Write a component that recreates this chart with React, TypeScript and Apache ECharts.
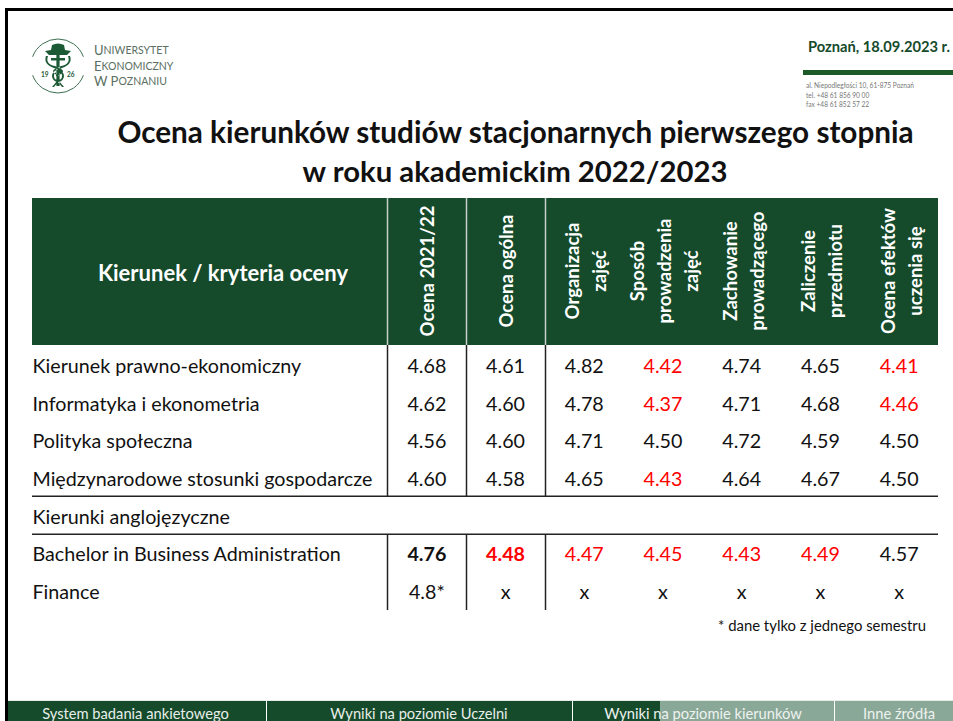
import React, { useEffect, useRef } from "react";
import * as echarts from "echarts";

const FONT = "Lato, Carlito, sans-serif";
const GREEN = "#154a2b";
const BODY_SIZE = 19.7;

const columnKeys = ["c1", "c2", "c3", "c4", "c5", "c6", "c7"];
const columnHeaders = [
  "Ocena 2021/22",
  "Ocena ogólna",
  "Organizacja\nzajęć",
  "Sposób\nprowadzenia\nzajęć",
  "Zachowanie\nprowadzącego",
  "Zaliczenie\nprzedmiotu",
  "Ocena efektów\nuczenia się",
];
const headerCentres = [427, 506, 585, 664, 743.5, 821.5, 901];
const rowLabels = [
  "Kierunek prawno-ekonomiczny",
  "Informatyka i ekonometria",
  "Polityka społeczna",
  "Międzynarodowe stosunki gospodarcze",
  "Kierunki anglojęzyczne",
  "Bachelor in Business Administration",
  "Finance",
];
const rowValues: string[][] = [
  ["4.68", "4.61", "4.82", "4.42", "4.74", "4.65", "4.41"],
  ["4.62", "4.60", "4.78", "4.37", "4.71", "4.68", "4.46"],
  ["4.56", "4.60", "4.71", "4.50", "4.72", "4.59", "4.50"],
  ["4.60", "4.58", "4.65", "4.43", "4.64", "4.67", "4.50"],
  ["", "", "", "", "", "", ""],
  ["4.76", "4.48", "4.47", "4.45", "4.43", "4.49", "4.57"],
  ["4.8*", "x", "x", "x", "x", "x", "x"],
];
const redCells = ["0-3", "0-6", "1-3", "1-6", "3-3", "5-1", "5-2", "5-3", "5-4", "5-5"];
const boldCells = ["5-0", "5-1"];
const footerTabs = [
  { text: "System badania ankietowego", x0: 8, x1: 266, tx: 135.5, fill: GREEN },
  { text: "Wyniki na poziomie Uczelni", x0: 267, x1: 572, tx: 419, fill: GREEN },
];

function cells() {
  const out: any[] = [];
  rowValues.forEach((row, r) =>
    row.forEach((v, c) => {
      if (!v) return;
      const k = `${r}-${c}`;
      out.push({
        value: [c, r],
        name: v,
        label: {
          color: redCells.includes(k) ? "#ff0000" : "#111111",
          fontWeight: boldCells.includes(k) ? "bold" : "normal",
        },
      });
    })
  );
  return out;
}

const logoPath =
  "M-13 -15 L-7 -16 L-6 -21 Q0 -24 6 -21 L7 -16 L13 -15 L9 -11 L-9 -11 Z " +
  "M-1.6 -11 L1.6 -11 L1.6 20 L-1.6 20 Z " +
  "M-10 -10 Q-13 -2 -3 0 L3 3 Q7 5 3 8 L-2 10 L-2 7 Q3 5 1 4 L-4 2 Q-15 -2 -12 -10 Z " +
  "M10 -10 Q13 -2 3 0 L-3 3 Q-7 5 -3 8 L2 10 L2 7 Q-3 5 -1 4 L4 2 Q15 -2 12 -10 Z " +
  "M-7 -8 L7 -8 L7 -5.5 L-7 -5.5 Z " +
  "M-6 10 A6 6 0 1 1 6 10 A6 6 0 1 1 -6 10 Z M-4 10 A4 4 0 1 0 4 10 A4 4 0 1 0 -4 10 Z " +
  "M-6 21 L-1 15 L0 16 L-4 21 Z M6 21 L1 15 L0 16 L4 21 Z";
echarts.graphic.registerShape("ueLogoMark", echarts.graphic.extendPath(logoPath, {}));

function graphics() {
  const g: any[] = [];
  const rect = (x: number, y: number, w: number, h: number, fill: string, z = 0) =>
    g.push({ type: "rect", shape: { x, y, width: w, height: h }, style: { fill }, z });
  const text = (x: number, y: number, t: string, size: number, color: string, o: any = {}) =>
    g.push({
      type: "text",
      x,
      y,
      rotation: o.rotation || 0,
      z: 5,
      style: {
        text: t,
        fill: color,
        font: `${o.bold ? "bold " : ""}${size}px ${FONT}`,
        align: o.align || "left",
        verticalAlign: "middle",
        lineHeight: o.lineHeight,
        rich: o.rich,
      },
    });
  const vline = (x: number, y0: number, y1: number, c: string, w = 1) =>
    g.push({ type: "line", shape: { x1: x, y1: y0, x2: x, y2: y1 }, style: { stroke: c, lineWidth: w }, z: 3 });

  // slide frame
  rect(5, 8, 948, 3, "#000000");
  rect(5, 8, 3, 713, "#000000");

  // logo
  g.push({ type: "ueLogoMark", x: 58, y: 66, scaleX: 1, scaleY: 1, style: { fill: "#1c5a35" }, z: 4 });
  const ring = { stroke: "#3d6f50", fill: "none", lineWidth: 1 };
  const deg = Math.PI / 180;
  g.push({ type: "arc", shape: { cx: 58, cy: 66, r: 27, startAngle: 200 * deg, endAngle: 340 * deg }, style: ring, z: 4 });
  g.push({ type: "arc", shape: { cx: 58, cy: 66, r: 27, startAngle: 20 * deg, endAngle: 160 * deg }, style: ring, z: 4 });
  text(41, 74, "19", 6.5, "#1c5a35", { bold: true });
  text(67, 74, "26", 6.5, "#1c5a35", { bold: true });
  const caps = { rich: { a: { font: `13px ${FONT}`, fill: "#5a6f62" }, b: { font: `10.5px ${FONT}`, fill: "#5a6f62" } } };
  text(94, 50, "{a|U}{b|NIWERSYTET}", 10.5, "#5a6f62", caps);
  text(94, 66, "{a|E}{b|KONOMICZNY}", 10.5, "#5a6f62", caps);
  text(94, 81, "{a|W P}{b|OZNANIU}", 10.5, "#5a6f62", caps);

  // top right
  text(808, 46, "Poznań, 18.09.2023 r.", 14.7, GREEN, { bold: true });
  rect(803, 70, 150, 5, "#1d5a2a");
  text(806, 85, "al. Niepodległości 10, 61-875 Poznań", 6.6, "#777777");
  text(806, 95, "tel. +48 61 856 90 00", 6.6, "#777777");
  text(806, 104, "fax +48 61 852 57 22", 6.6, "#777777");

  // title
  text(515.5, 131, "Ocena kierunków studiów stacjonarnych pierwszego stopnia", 29.7, "#111111", { bold: true, align: "center" });
  text(515, 170, "w roku akademickim 2022/2023", 29.3, "#111111", { bold: true, align: "center" });

  // table header
  rect(32, 198, 906, 147, GREEN);
  for (const x of [387.5, 466.5, 545.5]) vline(x, 198, 345, "#c8d0cb", 1.5);
  text(223, 272, "Kierunek / kryteria oceny", 22, "#ffffff", { bold: true, align: "center" });
  columnHeaders.forEach((h, i) => {
    text(headerCentres[i], 271, h, 18.5, "#ffffff", {
      bold: true,
      align: "center",
      rotation: Math.PI / 2,
      lineHeight: 27,
    });
  });

  // table rules
  for (const x of [387.5, 466.5, 545.5]) {
    vline(x, 345, 496, "#222222", 1.5);
    vline(x, 534, 610, "#222222", 1.5);
  }
  rect(32, 495.5, 906, 1.5, "#222222");
  rect(32, 533.5, 906, 1.5, "#222222");

  // footnote
  text(718, 625, "* dane tylko z jednego semestru", 14.9, "#111111");

  // footer
  rect(8, 700, 945, 1, "#e6ebe8");
  footerTabs.forEach((t) => {
    rect(t.x0, 701, t.x1 - t.x0, 20, t.fill);
    text(t.tx, 712.5, t.text, 14.7, "#e8eee9", { align: "center" });
  });
  rect(573, 701, 87, 20, GREEN);
  rect(660, 701, 174, 20, "#8aa898");
  rect(835, 701, 118, 20, "#8aa898");
  text(703, 712.5, "Wyniki na poziomie kierunków", 14.7, "#eef2ef", { align: "center" });
  text(899, 712.5, "Inne źródła", 14.7, "#eef2ef", { align: "center" });
  return g;
}

export default function App() {
  const ref = useRef<HTMLDivElement>(null);
  useEffect(() => {
    document.body.style.margin = "0";
    const chart = echarts.init(ref.current!, undefined, { renderer: "svg" });
    chart.setOption({
      animation: false,
      backgroundColor: "#ffffff",
      grid: { left: 387.5, right: 953 - 938.5, top: 347, height: 263, containLabel: false },
      xAxis: {
        type: "category",
        data: columnKeys,
        axisLine: { show: false },
        axisTick: { show: false },
        axisLabel: { show: false },
        splitLine: { show: false },
      },
      yAxis: {
        type: "category",
        inverse: true,
        data: rowLabels,
        axisLine: { show: false },
        axisTick: { show: false },
        splitLine: { show: false },
        axisLabel: {
          align: "left",
          margin: 355,
          fontFamily: FONT,
          fontSize: BODY_SIZE,
          color: "#111111",
          interval: 0,
        },
      },
      series: [
        {
          type: "scatter",
          symbolSize: 1,
          itemStyle: { color: "rgba(0,0,0,0)", opacity: 1 },
          data: cells(),
          label: {
            show: true,
            position: "inside",
            opacity: 1,
            formatter: (p: any) => p.name,
            fontFamily: FONT,
            fontSize: BODY_SIZE,
          },
          z: 6,
        },
      ],
      graphic: graphics(),
    });
    return () => chart.dispose();
  }, []);
  return <div ref={ref} style={{ width: 953, height: 721 }} />;
}
